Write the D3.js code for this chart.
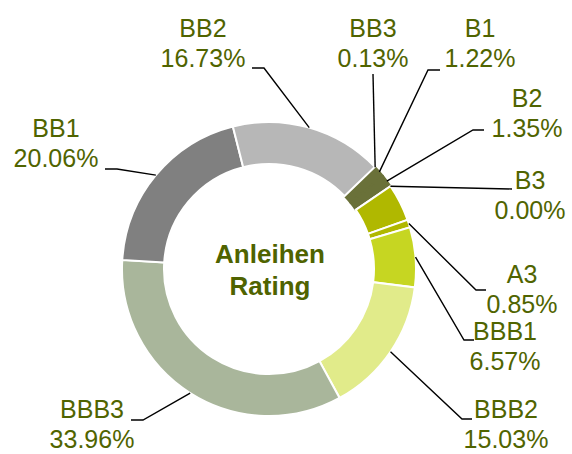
<!DOCTYPE html>
<html>
<head>
<meta charset="utf-8">
<script src="https://cdnjs.cloudflare.com/ajax/libs/d3/7.8.5/d3.min.js"></script>
<style>
  body { margin: 0; background: #fff; }
  text { font-family: "Liberation Sans", Arial, sans-serif; }
</style>
</head>
<body>
<div id="chart"></div>
<script>
/* categories and values, clockwise from the top right */
var ratings = ["BB3", "B1", "B2", "B3", "", "A3", "BBB1", "BBB2", "BBB3", "BB1", "BB2"];
var shares  = [0.13, 1.22, 1.35, 0.00, 4.10, 0.85, 6.57, 15.03, 33.96, 20.06, 16.73];
var colors  = ["#a9a9a9", "#6a7139", "#6a7139", "#6a7139", "#b0b800", "#b0b800",
               "#c6d622", "#e1eb8a", "#a9b69b", "#808080", "#b7b7b7"];
var labelTexts = shares.map(function(v){ return v.toFixed(2) + "%"; });

var width = 572, height = 454;
var cx = 269, cy = 269, outerR = 147, innerR = 105;
var textColor = "#506400";

/* where the labels stand (x center, first baseline) and the bend of their line */
var labelLayout = {
    "BB2":  {x: 203, y: 37,  bend: [[252, 68], [264, 68]]},
    "BB3":  {x: 373, y: 37,  bend: [[373, 74]]},
    "B1":   {x: 480, y: 37,  bend: [[440, 70], [428, 70]]},
    "B2":   {x: 527, y: 107, bend: [[484, 130], [473, 130]]},
    "B3":   {x: 530, y: 189, bend: [[512, 189]]},
    "A3":   {x: 522, y: 283, bend: [[486, 290], [476, 290]]},
    "BBB1": {x: 505, y: 340, bend: [[474, 340], [464, 340]]},
    "BBB2": {x: 506, y: 418, bend: [[472, 419], [462, 419]]},
    "BBB3": {x: 92,  y: 418, bend: [[131, 420], [143, 420]]},
    "BB1":  {x: 56,  y: 137, bend: [[105, 169], [117, 169]]}
};

var svg = d3.select("#chart").append("svg")
    .attr("width", width)
    .attr("height", height);

var startAngle = 46 * Math.PI / 180;
var pie = d3.pie()
    .sort(null)
    .value(function(d){ return d; })
    .startAngle(startAngle)
    .endAngle(startAngle + 2 * Math.PI);

var arcs = pie(shares);

var arc = d3.arc().innerRadius(innerR).outerRadius(outerR);
// arc with no thickness, used to find the point on the outer edge
var edge = d3.arc().innerRadius(outerR).outerRadius(outerR);

var g = svg.append("g").attr("transform", "translate(" + cx + "," + cy + ")");

g.selectAll("path.slice")
    .data(arcs)
    .enter().append("path")
    .attr("class", "slice")
    .attr("d", arc)
    .attr("fill", function(d, i){ return colors[i]; })
    .attr("stroke", function(d, i){
        // B1 and B2 look like a single slice
        return (ratings[i] == "B1" || ratings[i] == "B2") ? colors[i] : "#fff";
    })
    .attr("stroke-width", 2);

/* leader lines: from the label bend to the middle of the slice edge */
var line = d3.line();
arcs.forEach(function(d, i){
    var name = ratings[i];
    var lay = labelLayout[name];
    if(lay == undefined) return;
    var p = edge.centroid(d);
    var pts = lay.bend.slice();
    pts.push([p[0] + cx, p[1] + cy]);
    svg.append("path")
        .attr("d", line(pts))
        .attr("fill", "none")
        .attr("stroke", "#000")
        .attr("stroke-width", 1.4);

    var t = svg.append("text")
        .attr("x", lay.x)
        .attr("y", lay.y)
        .attr("text-anchor", "middle")
        .attr("fill", textColor)
        .style("font-size", "25px");
    t.append("tspan").attr("x", lay.x).text(name);
    t.append("tspan").attr("x", lay.x).attr("dy", 30).text(labelTexts[i]);
});

/* title in the hole */
var title = svg.append("text")
    .attr("text-anchor", "middle")
    .attr("fill", "#4f6300")
    .style("font-size", "26px")
    .style("font-weight", "bold");
title.append("tspan").attr("x", cx + 1).attr("y", 263).text("Anleihen");
title.append("tspan").attr("x", cx + 1).attr("y", 295).text("Rating");
</script>
</body>
</html>
